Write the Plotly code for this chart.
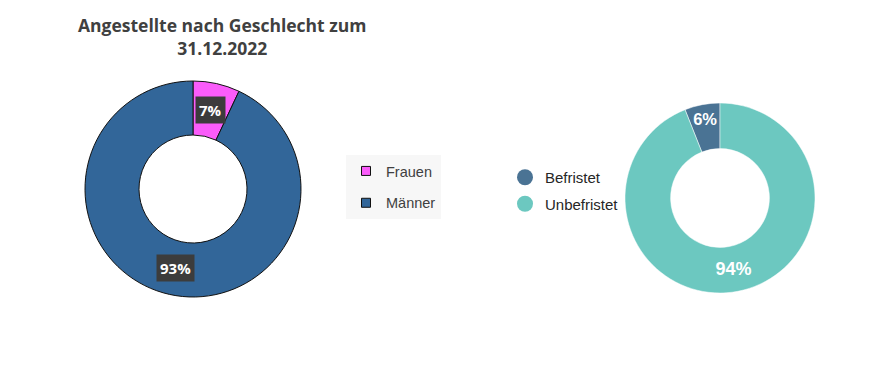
import math
import plotly.graph_objects as go

# Data
gender_labels = ["Frauen", "Männer"]
gender_values = [7, 93]
gender_colors = ["#fa5cfa", "#326699"]

contract_labels = ["Befristet", "Unbefristet"]
contract_values = [6, 94]
contract_colors = ["#4a7394", "#6cc8c0"]

title_text = "Angestellte nach Geschlecht zum<br>31.12.2022"

W, H = 888, 370
OFF = 8  # page offset of the figure inside the browser window


def fx(px):
    return (px - OFF) / W


def fy(py):
    return 1 - (py - OFF) / H


left_dom_x = [fx(85), fx(301)]
left_dom_y = [fy(297), fy(81)]
right_dom_x = [fx(625), fx(815)]
right_dom_y = [fy(293), fy(103)]
left_hole = 0.5
right_hole = 0.52

fig = go.Figure()

fig.add_trace(go.Pie(
    labels=gender_labels, values=gender_values, hole=left_hole,
    sort=False, direction="clockwise", rotation=0,
    marker=dict(colors=gender_colors, line=dict(color="#111111", width=1)),
    textinfo="none", hoverinfo="label+percent", showlegend=False,
    domain=dict(x=left_dom_x, y=left_dom_y),
))

fig.add_trace(go.Pie(
    labels=contract_labels, values=contract_values, hole=right_hole,
    sort=False, direction="clockwise",
    rotation=-contract_values[0] / sum(contract_values) * 360,
    marker=dict(colors=contract_colors, line=dict(color="white", width=0.5)),
    textinfo="percent", texttemplate="%{percent:.0%}",
    textposition="inside", insidetextorientation="horizontal",
    insidetextfont=dict(family="Liberation Sans, Arial", size=18, color="white", weight="bold"),
    hoverinfo="label+percent", showlegend=False,
    domain=dict(x=right_dom_x, y=right_dom_y),
))

# Boxed percentage labels for left donut, positioned from data
cx = (left_dom_x[0] + left_dom_x[1]) / 2 * W
cy = (left_dom_y[0] + left_dom_y[1]) / 2 * H
R = (left_dom_x[1] - left_dom_x[0]) * W / 2
rmid = R * (1 + left_hole) / 2
total = sum(gender_values)
start = 0.0
for lab, v in zip(gender_labels, gender_values):
    frac = v / total
    mid = (start + frac / 2) * 2 * math.pi
    start += frac
    px = cx + rmid * math.sin(mid)
    py = cy + rmid * math.cos(mid)
    fig.add_annotation(
        x=px / W, y=py / H, xref="paper", yref="paper",
        xanchor="center", yanchor="middle",
        text=f"<b>{round(frac*100)}%</b>", showarrow=False,
        font=dict(family="Open Sans, Liberation Sans", size=15, color="white"),
        bgcolor="#3c3c3c", borderpad=3,
    )

# Title
fig.add_annotation(
    x=fx(222), y=fy(36), xref="paper", yref="paper",
    xanchor="center", yanchor="middle", showarrow=False,
    text=f"<b>{title_text}</b>",
    font=dict(family="Open Sans, Liberation Sans", size=17.5, color="#404040"),
)

# Legend 1 (squares)
for lab, col in zip(gender_labels, gender_colors):
    fig.add_trace(go.Scatter(
        x=[None], y=[None], mode="markers", name=lab, legendgroup=lab,
        marker=dict(symbol="square", size=9, color=col, line=dict(color="#111111", width=1)),
        legend="legend",
    ))

# Legend 2 (circles)
for lab, col in zip(contract_labels, contract_colors):
    fig.add_trace(go.Scatter(
        x=[None], y=[None], mode="markers", name=lab, legendgroup=lab,
        marker=dict(symbol="circle", size=16, color=col),
        legend="legend2",
    ))

fig.update_layout(
    width=W, height=H,
    margin=dict(l=0, r=0, t=0, b=0),
    paper_bgcolor="white", plot_bgcolor="white",
    xaxis=dict(visible=False), yaxis=dict(visible=False),
    legend=dict(
        x=fx(346), y=fy(155), xanchor="left", yanchor="top",
        bgcolor="#f7f7f7", font=dict(family="Liberation Sans, Arial", size=14.5, color="#404040"),
        tracegroupgap=10, itemwidth=30,
    ),
    legend2=dict(
        x=fx(505), y=fy(161), xanchor="left", yanchor="top",
        bgcolor="rgba(0,0,0,0)", font=dict(family="Liberation Sans, Arial", size=15, color="#262626"),
        tracegroupgap=4, itemwidth=30,
    ),
)

fig.write_html("out.html")
